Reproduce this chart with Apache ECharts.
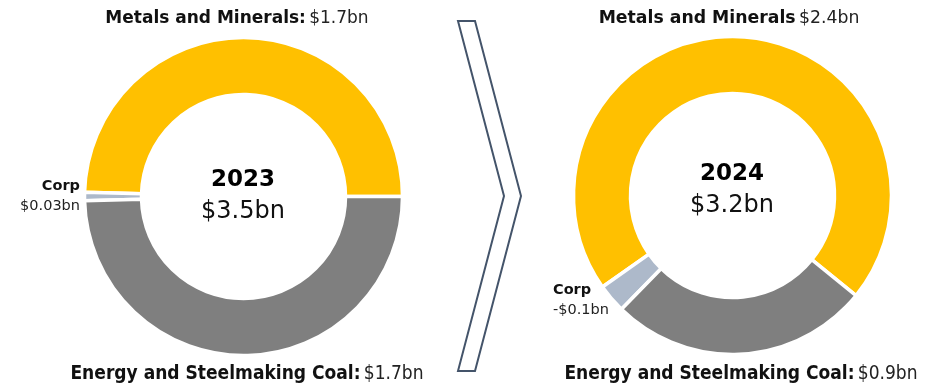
<!DOCTYPE html>
<html>
<head>
<meta charset="utf-8">
<style>
  html, body { margin: 0; padding: 0; background: #ffffff; }
  #chart { width: 926px; height: 384px; }
</style>
<script src="https://cdn.jsdelivr.net/npm/echarts@6/dist/echarts.min.js"></script>
</head>
<body>
<div id="chart"></div>
<script>
// Segment data, US$ billions
const years = ['2023', '2024'];
const totals = [3.5, 3.2];
const segments = ['Metals and Minerals', 'Corp', 'Energy and Steelmaking Coal'];
const values2023 = [1.7, 0.03, 1.7];
const values2024 = [2.4, -0.1, 0.9];
const segmentColors = ['#FFC000', '#ADB9CA', '#7F7F7F'];

const FONT = "'DejaVu Sans', Montserrat, sans-serif";
const FONT_NARROW = "'DejaVu Sans Condensed', 'Liberation Sans Narrow', sans-serif";

function money(v) {
  const s = Math.abs(v).toString();
  return (v < 0 ? '-$' : '$') + s + 'bn';
}

function pieSeries(values, center, startAngle) {
  return {
    type: 'pie',
    center: center,
    radius: [102, 159],
    startAngle: startAngle,
    clockwise: false,
    silent: true,
    label: { show: false },
    labelLine: { show: false },
    itemStyle: { borderColor: '#ffffff', borderWidth: 3.5 },
    data: segments.map((name, i) => ({
      name: name,
      value: Math.abs(values[i]),
      itemStyle: { color: segmentColors[i] }
    }))
  };
}

// Heading like "Name: $x.xbn" in bold + regular
function headText(x, y, name, value, size, font, colon) {
  return {
    type: 'text',
    x: x, y: y,
    style: {
      text: '{b|' + name + (colon ? ':' : '') + '} {r|' + money(value) + '}',
      align: 'center',
      verticalAlign: 'middle',
      rich: {
        b: { fontFamily: font, fontWeight: 'bold', fontSize: size, fill: '#111111' },
        r: { fontFamily: font, fontWeight: 'normal', fontSize: size, fill: '#222222' }
      }
    }
  };
}

function centerText(x, y, year, total) {
  return [
    { type: 'text', x: x, y: y - 16,
      style: { text: year, align: 'center', verticalAlign: 'middle',
               fontFamily: FONT, fontWeight: 'bold', fontSize: 23, fill: '#000000' } },
    { type: 'text', x: x, y: y + 16,
      style: { text: money(total), align: 'center', verticalAlign: 'middle',
               fontFamily: FONT, fontWeight: 'normal', fontSize: 24, fill: '#111111' } }
  ];
}

function corpText(x, y, value, align) {
  return [
    { type: 'text', x: x, y: y,
      style: { text: segments[1], align: align, verticalAlign: 'middle',
               fontFamily: FONT, fontWeight: 'bold', fontSize: 14.5, fill: '#111111' } },
    { type: 'text', x: x, y: y + 20,
      style: { text: money(value), align: align, verticalAlign: 'middle',
               fontFamily: FONT, fontWeight: 'normal', fontSize: 14.5, fill: '#222222' } }
  ];
}

const chart = echarts.init(document.getElementById('chart'), null, { renderer: 'canvas' });

chart.setOption({
  animation: false,
  backgroundColor: '#ffffff',
  series: [
    pieSeries(values2023, [243.5, 196.5], 0),
    pieSeries(values2024, [732.5, 195.5], 321)
  ],
  graphic: [
    headText(237, 19, segments[0], values2023[0], 17, FONT, true),
    headText(729, 19, segments[0], values2024[0], 17.3, FONT, false),
    headText(247, 374, segments[2], values2023[2], 19, FONT_NARROW, true),
    headText(741, 374, segments[2], values2024[2], 19, FONT_NARROW, true),
    ...centerText(243, 196, years[0], totals[0]),
    ...centerText(732, 190, years[1], totals[1]),
    ...corpText(80, 186, values2023[1], 'right'),
    ...corpText(553, 290, values2024[1], 'left'),
    // chevron between the two years
    {
      type: 'polygon',
      shape: { points: [[458, 21], [475, 21], [521, 196], [475, 371], [458, 371], [504, 196]] },
      style: { fill: 'none', stroke: '#44546A', lineWidth: 2 }
    }
  ]
});
</script>
</body>
</html>
